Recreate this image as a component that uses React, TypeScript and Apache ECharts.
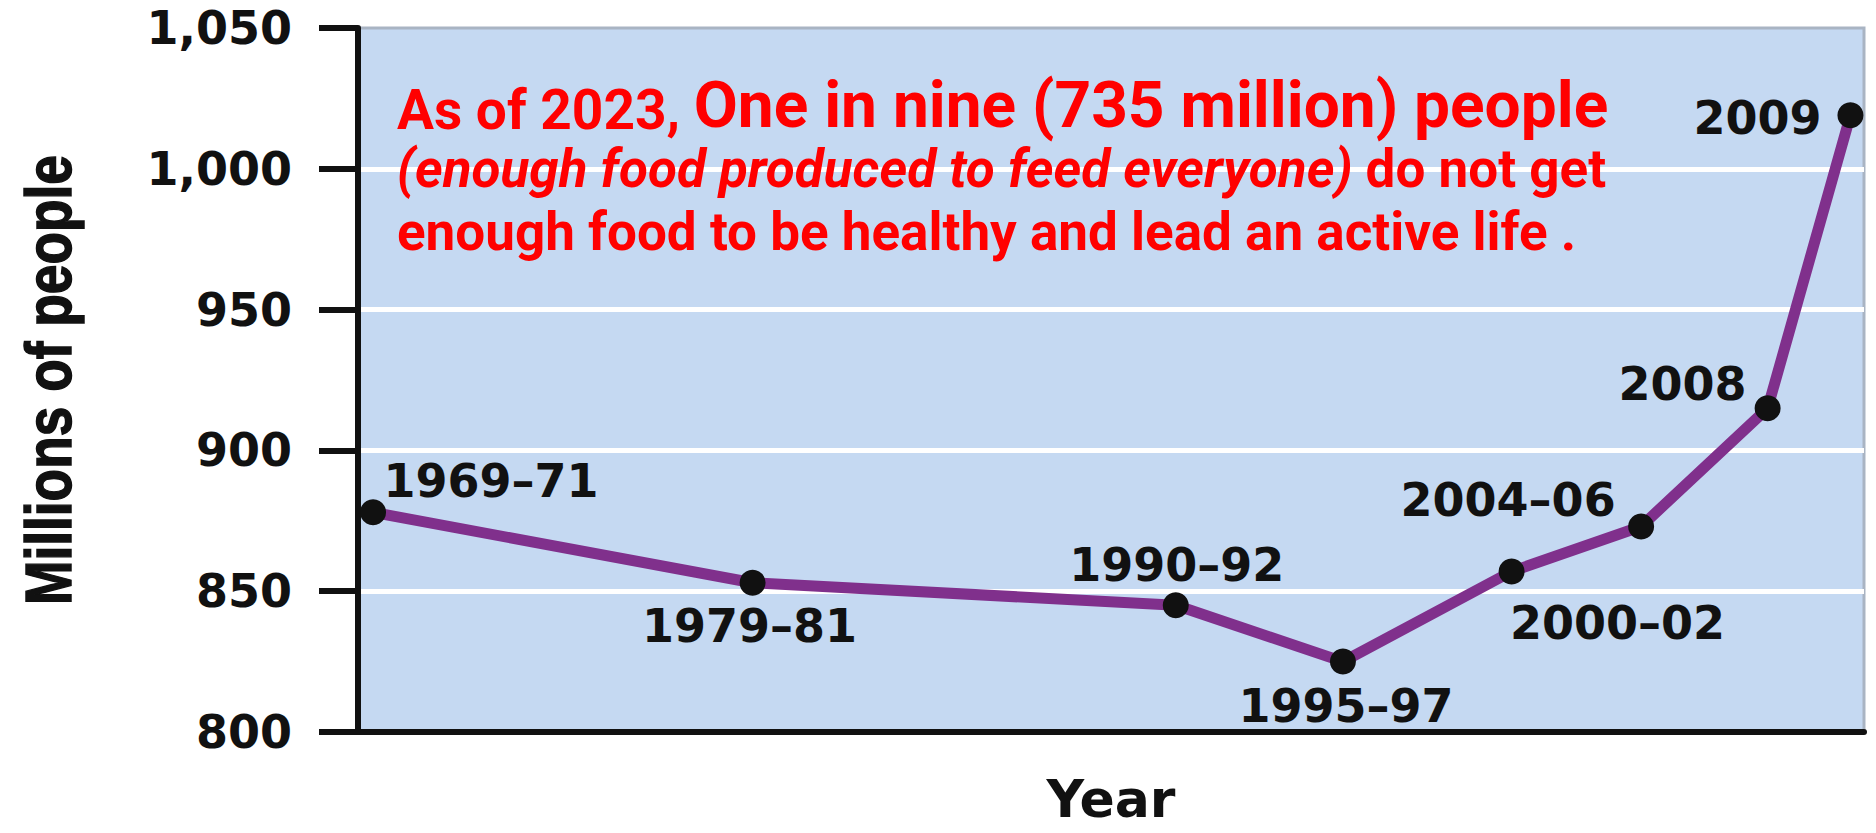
import React, { useEffect, useRef } from "react";
import * as echarts from "echarts";

// ---- data ----
const periods = ["1969–71", "1979–81", "1990–92", "1995–97", "2000–02", "2004–06", "2008", "2009"];
const undernourished = [878, 853, 845, 825, 857, 873, 915, 1019];
// horizontal placement of each period along the (unlabelled) year axis, in % of its length
const xPlacement = [1.0, 26.2, 54.3, 65.4, 76.6, 85.2, 93.6, 99.1];
const yMin = 800;
const yMax = 1050;
const yStep = 50;

// label offsets (layout only) relative to each point
const labelOffsets: [number, number][] = [
  [118, -31],
  [-3, 43],
  [1, -40],
  [3, 44],
  [106, 52],
  [-133, -26],
  [-85, -24],
  [-93, 3],
];

const annotationLine1a = "As of 2023, ";
const annotationLine1b = "One in nine (735 million) people";
const annotationLine2a = "(enough food produced to feed everyone)";
const annotationLine2b = " do not get";
const annotationLine3 = "enough food to be healthy and lead an active life .";

export default function App() {
  const ref = useRef<HTMLDivElement>(null);

  useEffect(() => {
    if (!ref.current) return;
    const chart = echarts.init(ref.current, null, { renderer: "svg" });

    const data = undernourished.map((v, i) => ({
      value: [xPlacement[i], v],
      label: { offset: labelOffsets[i] },
    }));

    const red = "#FF0000";
    const labelFont = { fontFamily: "DejaVu Sans", fontWeight: "bold" as const };

    chart.setOption({
      animation: false,
      backgroundColor: "#ffffff",
      grid: {
        left: 358,
        right: 12,
        top: 28,
        bottom: 101,
        show: true,
        backgroundColor: "#C5D9F2",
        borderColor: "#A9B4C3",
        borderWidth: 3,
      },
      xAxis: {
        type: "value",
        min: 0,
        max: 100,
        axisLine: { show: true, onZero: false, lineStyle: { color: "#111111", width: 6 } },
        axisTick: { show: false },
        axisLabel: { show: false },
        splitLine: { show: false },
      },
      yAxis: {
        type: "value",
        min: yMin,
        max: yMax,
        interval: yStep,
        axisLine: { show: true, lineStyle: { color: "#111111", width: 6 } },
        axisTick: { show: true, length: 39, lineStyle: { color: "#111111", width: 6 } },
        axisLabel: {
          margin: 66,
          formatter: (v: number) => v.toLocaleString("en-US"),
          ...labelFont,
          fontSize: 46,
          color: "#111111",
        },
        splitLine: {
          show: true,
          showMinLine: false,
          showMaxLine: false,
          lineStyle: { color: "#FFFFFF", width: 5 },
        },
      },
      series: [
        {
          type: "line",
          data,
          symbol: "circle",
          symbolSize: 26,
          clip: false,
          z: 3,
          itemStyle: { color: "#111111" },
          lineStyle: { color: "#80308C", width: 11 },
          emphasis: { disabled: true },
          label: {
            show: true,
            position: "inside",
            align: "center",
            verticalAlign: "middle",
            formatter: (p: any) => periods[p.dataIndex],
            ...labelFont,
            fontSize: 46,
            color: "#111111",
            textBorderWidth: 0,
          },
        },
      ],
      graphic: [
        {
          type: "text",
          x: 49,
          y: 380,
          rotation: Math.PI / 2,
          scaleX: 0.82,
          style: {
            text: "Millions of people",
            fontFamily: "Liberation Sans",
            fontWeight: "bold",
            fontSize: 65,
            fill: "#111111",
            stroke: "#111111",
            lineWidth: 1.5,
            align: "center",
            verticalAlign: "middle",
          },
        },
        {
          type: "text",
          x: 1111,
          y: 799,
          style: {
            text: "Year",
            fontFamily: "DejaVu Sans",
            fontWeight: "bold",
            fontSize: 52,
            lineHeight: 48,
            fill: "#111111",
            align: "center",
            verticalAlign: "middle",
          },
        },
        {
          type: "text",
          x: 397,
          y: 61,
          z: 10,
          style: {
            text: `{a|${annotationLine1a}}{b|${annotationLine1b}}`,
            align: "left",
            verticalAlign: "top",
            rich: {
              a: {
                fontFamily: "Roboto",
                fontWeight: "bold",
                fontSize: 55,
                lineHeight: 66,
                fill: red,
                verticalAlign: "bottom",
              },
              b: {
                fontFamily: "Roboto",
                fontWeight: "bold",
                fontSize: 64,
                lineHeight: 76,
                fill: red,
                verticalAlign: "bottom",
              },
            },
          },
        },
        {
          type: "text",
          x: 397,
          y: 137,
          z: 10,
          style: {
            text: `{i|${annotationLine2a}}{n|${annotationLine2b}}`,
            align: "left",
            verticalAlign: "top",
            rich: {
              i: {
                fontFamily: "Roboto",
                fontWeight: "bold",
                fontStyle: "italic",
                fontSize: 53,
                lineHeight: 64,
                fill: red,
              },
              n: {
                fontFamily: "Roboto",
                fontWeight: "bold",
                fontSize: 53,
                lineHeight: 64,
                fill: red,
              },
            },
          },
        },
        {
          type: "text",
          x: 397,
          y: 200,
          z: 10,
          style: {
            text: annotationLine3,
            fontFamily: "Roboto",
            fontWeight: "bold",
            fontSize: 53,
            lineHeight: 64,
            fill: red,
            align: "left",
            verticalAlign: "top",
          },
        },
      ],
    });

    return () => chart.dispose();
  }, []);

  return (
    <div
      ref={ref}
      style={{ position: "fixed", left: 0, top: 0, width: "1876px", height: "833px", background: "#fff" }}
    />
  );
}
